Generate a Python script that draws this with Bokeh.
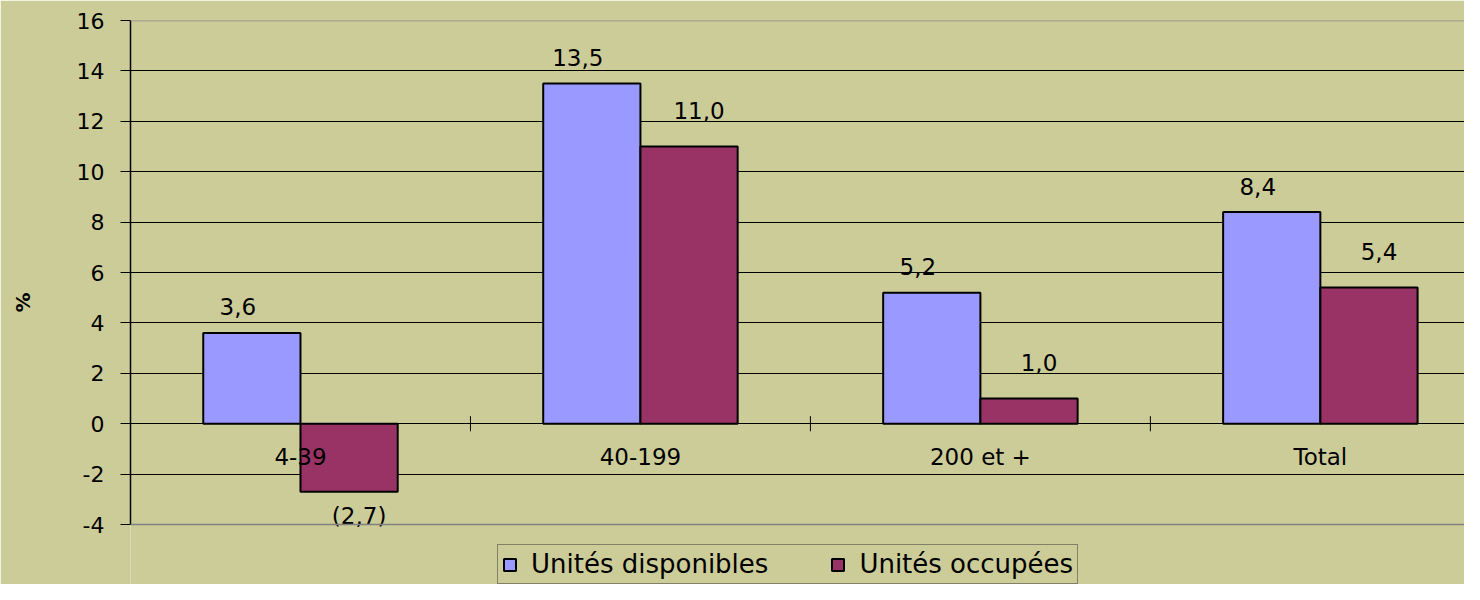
import numpy as np
from bokeh.plotting import figure
from bokeh.models import (Range1d, FixedTicker, Span, Legend, LegendItem,
                          ColumnDataSource, PrintfTickFormatter)
from bokeh.core.properties import value
from bokeh.embed import file_html
from bokeh.resources import INLINE

# ---- data -------------------------------------------------------------
categories = ["4-39", "40-199", "200 et +", "Total"]
disponibles = [3.6, 13.5, 5.2, 8.4]
occupees = [-2.7, 11.0, 1.0, 5.4]
series_names = ["Unités disponibles", "Unités occupées"]
y_ticks = [-4, -2, 0, 2, 4, 6, 8, 10, 12, 14, 16]

# ---- style ------------------------------------------------------------
BG = "#CCCC99"
BLUE = "#9999FF"
PURPLE = "#993366"
FONT = "DejaVu Sans"
BAR_W = 0.286
n = len(categories)
Y_LO, Y_HI = y_ticks[0], y_ticks[-1]
# extra room under the axis (for the legend), as a fraction of the data span
PAD_BELOW = (Y_HI - Y_LO) * 60 / 504


def fmt(v):
    s = f"{abs(v):.1f}".replace(".", ",")
    return f"({s})" if v < 0 else s


p = figure(width=1464, height=584, output_backend="svg", toolbar_location=None,
           x_axis_location=None,
           x_range=Range1d(0, 3.924), y_range=Range1d(Y_LO - PAD_BELOW, Y_HI),
           min_border_left=130, min_border_right=0, min_border_top=20,
           min_border_bottom=0,
           background_fill_color=BG, border_fill_color=BG,
           outline_line_color=None)

# grid / axis
p.xgrid.grid_line_color = None
p.ygrid.grid_line_color = "black"
p.ygrid.grid_line_width = 1
p.ygrid.ticker = FixedTicker(ticks=y_ticks)
ax = p.yaxis[0]
ax.ticker = FixedTicker(ticks=y_ticks)
ax.bounds = (Y_LO, Y_HI)
ax.formatter = PrintfTickFormatter(format="%d")
ax.axis_line_color = "black"
ax.axis_line_width = 1.5
ax.major_tick_out = 10
ax.major_tick_in = 0
ax.major_tick_line_color = "black"
ax.minor_tick_line_color = None
ax.major_label_standoff = 16
ax.major_label_text_font = FONT
ax.major_label_text_font_size = "22px"
ax.major_label_text_color = "black"
ax.axis_label = "%"
ax.axis_label_text_font = FONT
ax.axis_label_text_font_size = "20px"
ax.axis_label_text_font_style = "bold"
ax.axis_label_text_color = "black"
ax.axis_label_standoff = 39

p.add_layout(Span(location=Y_HI, dimension="width", line_color="#808080", line_width=1.5))
p.add_layout(Span(location=Y_LO, dimension="width", line_color="#808080", line_width=1.5))

xc = np.arange(n) + 0.5
r1 = p.vbar(x=xc - BAR_W / 2, top=disponibles, bottom=0, width=BAR_W,
            fill_color=BLUE, line_color="black", line_width=2)
r2 = p.vbar(x=xc + BAR_W / 2, top=occupees, bottom=0, width=BAR_W,
            fill_color=PURPLE, line_color="black", line_width=2)

# category boundary ticks on the zero line
bounds = np.arange(1, n)
p.segment(x0=bounds, y0=-0.3, x1=bounds, y1=0.3, line_color="black", line_width=1)

# category labels
p.text(x=xc, y=[0] * n, text=categories, y_offset=33,
       text_align="center", text_baseline="middle",
       text_font=value(FONT), text_font_size="23px", text_color="black")

# data labels
def label_source(vals, dx, up, down, shift):
    return ColumnDataSource(dict(
        x=list(xc + shift), y=vals, text=[fmt(v) for v in vals],
        xo=[dx] * len(vals),
        yo=[-up if v >= 0 else down for v in vals]))

s1 = label_source(disponibles, -14, 26, 24, -BAR_W / 2)
s2 = label_source(occupees, 10, 36, 24, BAR_W / 2)
for s in (s1, s2):
    p.text(x="x", y="y", text="text", x_offset="xo", y_offset="yo", source=s,
           text_align="center", text_baseline="middle",
           text_font=value(FONT), text_font_size="23px", text_color="black")

legend = Legend(items=[LegendItem(label=series_names[0], renderers=[r1]),
                       LegendItem(label=series_names[1], renderers=[r2])],
                orientation="horizontal", location=(367, 0), margin=0,
                padding=4, spacing=62, label_standoff=14,
                glyph_width=15, glyph_height=15,
                label_text_font=FONT, label_text_font_size="26px",
                label_text_color="black",
                border_line_color="#333333", border_line_width=1,
                background_fill_color=BG, background_fill_alpha=1)
p.add_layout(legend)

open("out.html", "w").write(file_html(p, INLINE))
